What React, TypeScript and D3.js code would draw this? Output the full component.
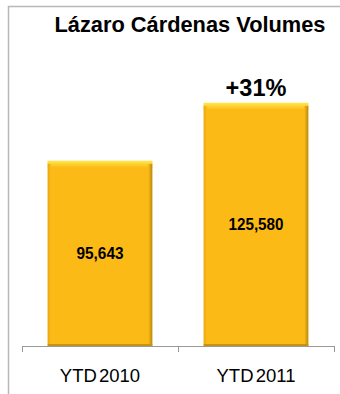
import React from "react";
import * as d3 from "d3";

const categories = ["YTD 2010", "YTD 2011"];
const values = [95643, 125580];
const title = "Lázaro Cárdenas Volumes";
const growthLabel = "+31%";

export default function App() {
  const W = 340, H = 394;
  const axisY = 346;
  const x0 = 22, x1 = 334;
  const x = d3.scaleBand<string>().domain(categories).range([x0, x1]).paddingInner(0.33).paddingOuter(0.165);
  const y = d3.scaleLinear().domain([0, 140000]).range([axisY, 75]);
  const fmt = d3.format(",");
  const bw = x.bandwidth();
  return (
    <svg width={W} height={H} style={{ position: "absolute", left: 0, top: 0 }} fontFamily="Liberation Sans, Arial, sans-serif">
      <defs>
        <linearGradient id="topG" x1="0" y1="0" x2="0" y2="1">
          <stop offset="0" stopColor="#FFE84A" />
          <stop offset="1" stopColor="#FBBA16" />
        </linearGradient>
        <linearGradient id="sideR" x1="0" y1="0" x2="1" y2="0">
          <stop offset="0" stopColor="#FBBA16" />
          <stop offset="1" stopColor="#B88A10" />
        </linearGradient>
        <linearGradient id="sideL" x1="0" y1="0" x2="1" y2="0">
          <stop offset="0" stopColor="#E8A812" />
          <stop offset="1" stopColor="#FBBA16" />
        </linearGradient>
      </defs>
      <rect x={0} y={0} width={W} height={H} fill="#fff" />
      <path d={`M8.5,${H} V6.5 H${W}`} fill="none" stroke="#b8b8b8" strokeWidth={1.5} />
      <text x={190} y={31.5} textAnchor="middle" fontSize={21.8} fontWeight="bold" fill="#000">{title}</text>
      {categories.map((c, i) => {
        const bx = x(c)!;
        const by = y(values[i]);
        const bh = axisY - by;
        return (
          <g key={c}>
            <rect x={bx} y={by} width={bw} height={bh} fill="#FBBA16" />
            <rect x={bx} y={by} width={bw} height={7} fill="url(#topG)" />
            <rect x={bx} y={by + 3} width={3} height={bh - 3} fill="url(#sideL)" />
            <rect x={bx + bw - 4} y={by + 3} width={4} height={bh - 3} fill="url(#sideR)" />
            <rect x={bx} y={axisY - 2} width={bw} height={2} fill="#C8920E" />
            <text x={bx + bw / 2} y={by + bh / 2 + 6} textAnchor="middle" fontSize={16.5} fontWeight="bold" fill="#000"
              textLength={values[i] >= 100000 ? 55 : 47} lengthAdjust="spacingAndGlyphs">{fmt(values[i])}</text>
            <text x={bx + bw / 2} y={381.5} textAnchor="middle" fontSize={18.5} fill="#000" wordSpacing={-3}>{c}</text>
          </g>
        );
      })}
      <text x={x(categories[1])! + bw / 2} y={95.7} textAnchor="middle" fontSize={23.5} fontWeight="bold" fill="#000">{growthLabel}</text>
      <line x1={x0} x2={x1} y1={axisY + 0.5} y2={axisY + 0.5} stroke="#999" strokeWidth={1} />
      {[x0, (x0 + x1) / 2, x1].map((t, i) => (
        <line key={i} x1={t + 0.5} x2={t + 0.5} y1={axisY} y2={axisY + 6} stroke="#999" strokeWidth={1} />
      ))}
    </svg>
  );
}
